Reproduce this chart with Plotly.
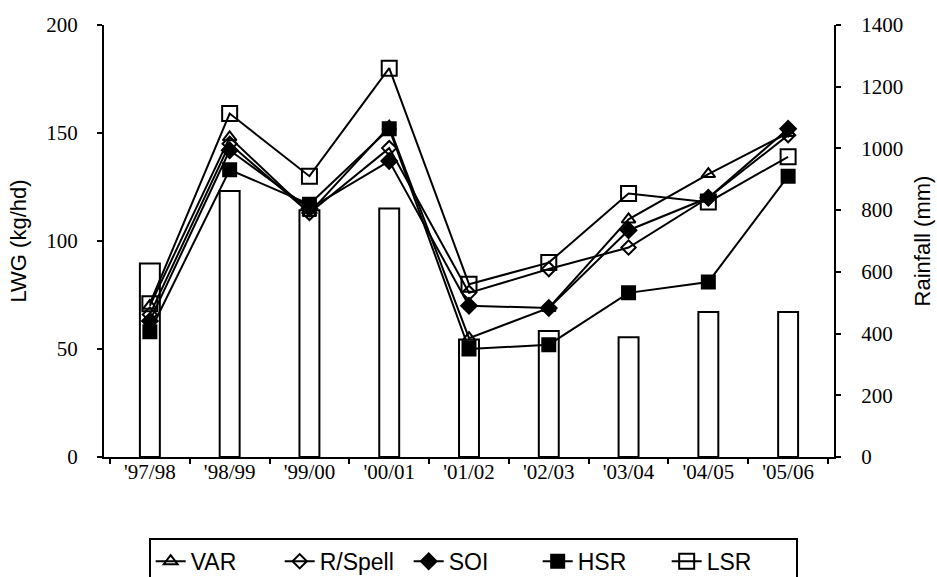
import plotly.graph_objects as go

# Seasons
seasons = ["'97/98", "'98/99", "'99/00", "'00/01", "'01/02", "'02/03", "'03/04", "'04/05", "'05/06"]

# Liveweight gain (kg/hd) per strategy
lwg_var = [70, 148, 113, 153, 55, 69, 110, 131, 150]
lwg_rspell = [66, 145, 113, 143, 76, 87, 97, 120, 149]
lwg_soi = [63, 142, 115, 137, 70, 69, 105, 120, 152]
lwg_hsr = [58, 133, 117, 152, 50, 52, 76, 81, 130]
lwg_lsr = [71, 159, 130, 180, 80, 90, 122, 118, 139]

# Rainfall (mm)
rainfall = [627, 862, 800, 805, 381, 408, 388, 470, 470]

tick_font = dict(family="Liberation Serif, Times New Roman, serif", size=21, color="black")
title_font = dict(family="Liberation Sans, Arial, sans-serif", size=22, color="black")
legend_font = dict(family="Liberation Sans, Arial, sans-serif", size=23, color="black")

fig = go.Figure()

# Bars on primary y (drawn underneath), shown on the right side
fig.add_trace(go.Bar(x=seasons, y=rainfall, width=0.25, yaxis="y",
                     marker=dict(color="white", line=dict(color="black", width=2)),
                     showlegend=False))

series = [
    ("VAR", lwg_var, "triangle-up-open", 12),
    ("R/Spell", lwg_rspell, "diamond-open", 11),
    ("SOI", lwg_soi, "diamond", 12),
    ("HSR", lwg_hsr, "square", 13),
    ("LSR", lwg_lsr, "square-open", 15),
]
for name, vals, sym, sz in series:
    fig.add_trace(go.Scatter(x=seasons, y=vals, name=name, yaxis="y2", mode="lines+markers",
                             line=dict(color="black", width=2),
                             marker=dict(symbol=sym, size=sz, color="black",
                                         line=dict(color="black", width=2))))

fig.update_layout(
    template="none",
    width=937, height=577,
    margin=dict(l=104, r=103, t=25, b=120, autoexpand=False),
    plot_bgcolor="white", paper_bgcolor="white",
    xaxis=dict(type="category", automargin=False, showline=True, linecolor="black", linewidth=2,
               ticks="outside", tickson="boundaries", ticklen=5, tickwidth=2, tickcolor="black",
               ticklabelstandoff=-5,
               tickfont=tick_font, showgrid=False, zeroline=False),
    yaxis=dict(side="right", range=[0, 1400], tickvals=list(range(0, 1401, 200)),
               automargin=False, showline=True, linecolor="black", linewidth=2,
               ticks="outside", ticklen=5, tickwidth=2, tickcolor="black", ticklabelstandoff=16,
               tickfont=tick_font, showgrid=False, zeroline=False,
               title=dict(text="Rainfall (mm)", font=title_font, standoff=12)),
    yaxis2=dict(overlaying="y", side="left", range=[0, 200], tickvals=list(range(0, 201, 50)),
                automargin=False, showline=True, linecolor="black", linewidth=2,
                ticks="outside", ticklen=5, tickwidth=2, tickcolor="black", ticklabelstandoff=15,
                tickfont=tick_font, showgrid=False, zeroline=False,
                title=dict(text="LWG (kg/hd)", font=title_font, standoff=14)),
    legend=dict(orientation="h", xref="container", x=0.505, xanchor="center",
                yref="container", y=0.068, yanchor="top",
                bordercolor="black", borderwidth=2, font=legend_font,
                entrywidth=84, entrywidthmode="pixels", tracegroupgap=0),
    bargap=0.75,
)

# remove the default page margin so the figure sits at the window's corner
fig.write_html("out.html", config={"displayModeBar": False},
               post_script="document.body.style.margin='0';")
